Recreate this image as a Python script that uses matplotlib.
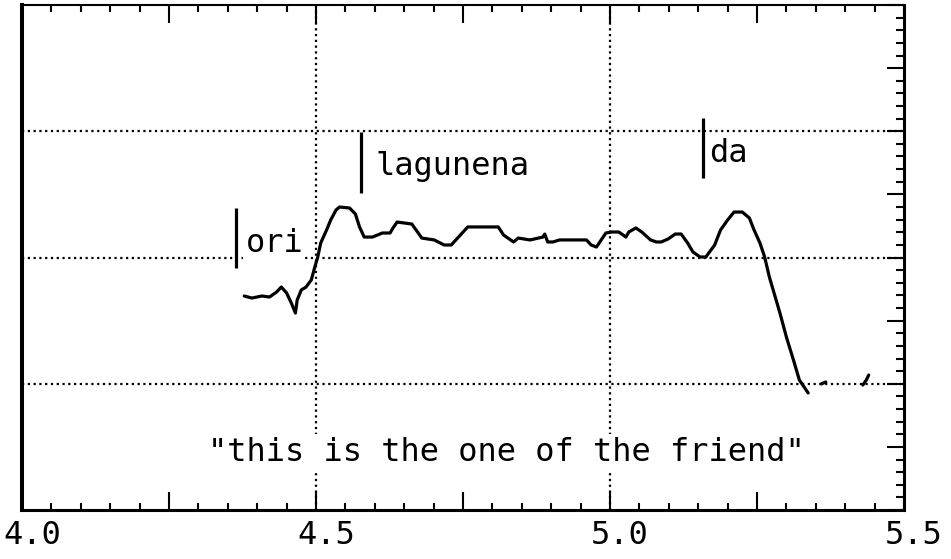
import matplotlib
matplotlib.use("Agg")
import matplotlib.pyplot as plt
from matplotlib.ticker import MultipleLocator, FuncFormatter
from matplotlib.transforms import ScaledTranslation

# Pitch track (time in s, relative pitch units)
time_s = [4.378, 4.391, 4.408, 4.421, 4.433, 4.441, 4.450, 4.458, 4.465, 4.468,
          4.475, 4.483, 4.492, 4.498, 4.503, 4.508, 4.518, 4.525, 4.534, 4.540,
          4.557, 4.567, 4.574, 4.582, 4.596, 4.613, 4.626, 4.631, 4.638, 4.663,
          4.680, 4.701, 4.718, 4.730, 4.758, 4.810, 4.819, 4.836, 4.844, 4.864,
          4.886, 4.889, 4.894, 4.903, 4.914, 4.960, 4.968, 4.977, 4.985, 4.993,
          5.003, 5.015, 5.027, 5.032, 5.044, 5.054, 5.069, 5.079, 5.087, 5.099,
          5.111, 5.121, 5.132, 5.141, 5.153, 5.163, 5.178, 5.188, 5.200, 5.211,
          5.225, 5.237, 5.245, 5.255, 5.263, 5.271, 5.279, 5.289, 5.300, 5.312,
          5.322, 5.337]
pitch = [1.695, 1.679, 1.695, 1.687, 1.727, 1.766, 1.719, 1.640, 1.560, 1.663,
         1.743, 1.766, 1.822, 1.925, 2.004, 2.115, 2.218, 2.297, 2.376, 2.400,
         2.392, 2.345, 2.242, 2.162, 2.162, 2.194, 2.194, 2.234, 2.281, 2.265,
         2.154, 2.139, 2.099, 2.099, 2.242, 2.242, 2.178, 2.123, 2.154, 2.139,
         2.162, 2.186, 2.123, 2.123, 2.139, 2.139, 2.099, 2.083, 2.139, 2.194,
         2.202, 2.202, 2.162, 2.202, 2.234, 2.202, 2.139, 2.123, 2.123, 2.147,
         2.186, 2.186, 2.115, 2.044, 2.004, 2.004, 2.099, 2.218, 2.297, 2.360,
         2.360, 2.313, 2.218, 2.115, 2.004, 1.846, 1.719, 1.560, 1.370, 1.188,
         1.030, 0.927]

# Short trailing fragments after the final fall
tail1_t = [5.359, 5.367]
tail1_f = [0.998, 1.014]
tail2_t = [5.430, 5.436, 5.440]
tail2_f = [0.990, 1.030, 1.069]

# Word boundaries and labels
words = ["ori", "lagunena", "da"]
boundary_t = [4.364, 4.577, 5.159]
boundary_lo = [1.917, 2.511, 2.630]
boundary_hi = [2.392, 2.994, 3.105]
word_x = [4.380, 4.601, 5.169]
word_y = [2.044, 2.653, 2.756]

gloss = '"this is the one of the friend"'
gloss_x = 4.824
gloss_y = 0.388

x_grid = [4.5, 5.0]
y_grid = [1, 2, 3]

FONT = "DejaVu Sans Mono"
FS = 23

fig = plt.figure(figsize=(9.51, 5.59), dpi=100)
fig.patch.set_facecolor("white")
ax = fig.add_axes([22 / 951, 1 - 510 / 559, (904 - 22) / 951, 505 / 559])
ax.set_xlim(4.0, 5.5)
ax.set_ylim(0, 4)

# dotted reference grid
dot = (0, (1, 1.6))
for gx in x_grid:
    ax.axvline(gx, color="black", lw=1.6, ls=dot, zorder=1)
for gy in y_grid:
    ax.axhline(gy, color="black", lw=1.6, ls=dot, zorder=1)

# pitch contour
ax.plot(time_s, pitch, color="black", lw=2.3, solid_joinstyle="round",
        solid_capstyle="round", zorder=4)
ax.plot(tail1_t, tail1_f, color="black", lw=2.3, solid_capstyle="round", zorder=4)
ax.plot(tail2_t, tail2_f, color="black", lw=2.3, solid_capstyle="round", zorder=4)

# boundary bars and word labels
ax.vlines(boundary_t, boundary_lo, boundary_hi, color="black", lw=2.3, zorder=5)
for w, x, y in zip(words, word_x, word_y):
    ax.text(x, y, w, family=FONT, fontsize=FS, ha="left", va="baseline",
            zorder=3, bbox=dict(facecolor="white", edgecolor="none", pad=1.5))

ax.text(gloss_x, gloss_y, gloss, family=FONT, fontsize=FS, ha="center",
        va="baseline", zorder=3,
        bbox=dict(facecolor="white", edgecolor="none", pad=2))

# spines
for side, lw in {"left": 2.9, "right": 2.2, "bottom": 2.2, "top": 1.5}.items():
    ax.spines[side].set_linewidth(lw)
    ax.spines[side].set_color("black")

# ticks
ax.xaxis.set_major_locator(MultipleLocator(0.25))
ax.xaxis.set_minor_locator(MultipleLocator(0.05))
ax.xaxis.set_major_formatter(FuncFormatter(
    lambda v, p: f"{v:.1f}" if abs(v * 2 - round(v * 2)) < 1e-6 else ""))
ax.tick_params(axis="x", which="both", direction="in", top=True, bottom=True,
               color="black", width=1.5)
ax.tick_params(axis="x", which="major", length=13, pad=7,
               labelsize=FS, labelfontfamily=FONT)
ax.tick_params(axis="x", which="minor", length=5)

ax.yaxis.set_major_locator(MultipleLocator(0.5))
ax.yaxis.set_minor_locator(MultipleLocator(0.1))
ax.tick_params(axis="y", which="both", direction="in", left=False, right=True,
               labelleft=False, labelright=False, color="black", width=1.5)
ax.tick_params(axis="y", which="major", length=12)
ax.tick_params(axis="y", which="minor", length=6)

offset = ScaledTranslation(10 / 100, 0, fig.dpi_scale_trans)
for lab in ax.get_xticklabels():
    lab.set_transform(lab.get_transform() + offset)

fig.savefig("out.png", dpi=100, facecolor="white")
